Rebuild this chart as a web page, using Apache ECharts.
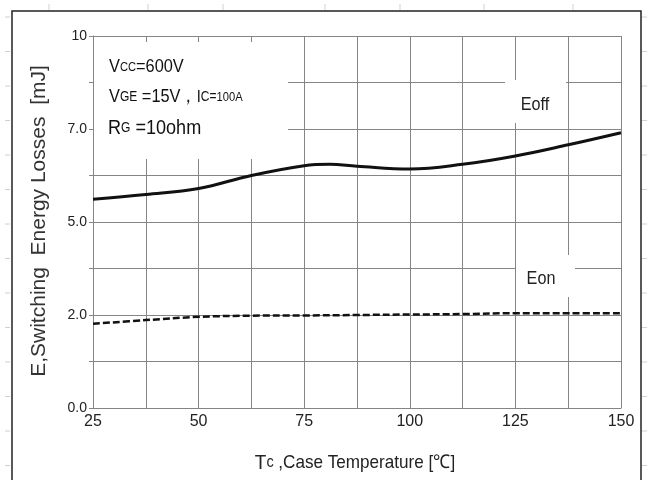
<!DOCTYPE html>
<html>
<head>
<meta charset="utf-8">
<script src="https://cdn.jsdelivr.net/npm/echarts@6/dist/echarts.min.js"></script>
<style>html,body{margin:0;padding:0;background:#fff;}#c{width:648px;height:480px;}</style>
</head>
<body>
<div id="c"></div>
<script>
// Temperatures (°C)
const eoffTemps = [25, 37.5, 50, 62.5, 75, 81, 87.5, 100, 112.5, 125, 137.5, 150];
const eonTemps  = [25, 37.5, 50, 62.5, 75, 87.5, 100, 112.5, 125, 137.5, 150];
// Values in y-grid units (grid rows 0..8, labelled with yTickLabels)
const eoffValues = [4.49, 4.59, 4.72, 5.0, 5.21, 5.24, 5.2, 5.14, 5.24, 5.42, 5.66, 5.92];
const eonValues  = [1.81, 1.89, 1.96, 1.985, 1.99, 2.0, 2.01, 2.02, 2.04, 2.04, 2.04];
const yTickLabels = ['0.0', '', '2.0', '', '5.0', '', '7.0', '', '10'];
const xTickLabels = [25, 50, 75, 100, 125, 150];

const chart = echarts.init(document.getElementById('c'));
const gridColor = '#858585';
const F = '"Liberation Sans", Arial, sans-serif';
const FN = '"Liberation Sans Narrow", "Liberation Sans", Arial, sans-serif';

const ruler = [];
[49, 148, 223, 325, 400, 484, 573].forEach(x => ruler.push({type:'line', z:1, shape:{x1:x,y1:4,x2:x,y2:10}, style:{stroke:'#d0d0d0', lineWidth:1}}));
for (let y = 17; y < 480; y += 34.5) {
  ruler.push({type:'line', z:1, shape:{x1:5,y1:y,x2:10,y2:y}, style:{stroke:'#d0d0d0', lineWidth:1}});
  ruler.push({type:'line', z:1, shape:{x1:642,y1:y,x2:647,y2:y}, style:{stroke:'#d0d0d0', lineWidth:1}});
}

chart.setOption({
  animation: false,
  backgroundColor: '#fff',
  grid: { left: 93, top: 36, width: 528, height: 372, containLabel: false },
  xAxis: {
    type: 'value', min: 25, max: 150, interval: 12.5,
    axisLine: { show: true, lineStyle: { color: gridColor, width: 1 } },
    axisTick: { show: false },
    splitLine: { show: true, lineStyle: { color: gridColor, width: 1 } },
    axisLabel: {
      margin: 6, color: '#222', fontSize: 16, fontFamily: FN,
      formatter: v => (xTickLabels.indexOf(v) >= 0 ? String(v) : '')
    }
  },
  yAxis: {
    type: 'value', min: 0, max: 8, interval: 1,
    axisLine: { show: true, lineStyle: { color: gridColor, width: 1 } },
    axisTick: { show: true, length: 4, lineStyle: { color: gridColor } },
    splitLine: { show: true, lineStyle: { color: gridColor, width: 1 } },
    axisLabel: {
      margin: 6, color: '#222', fontSize: 14, fontFamily: F,
      formatter: v => yTickLabels[Math.round(v)] || ''
    }
  },
  graphic: ruler.concat([
    { type: 'rect', z: 0, shape: { x: 12, y: 11, width: 629, height: 470 }, style: { fill: 'none', stroke: '#222', lineWidth: 1.5 } },
    { type: 'rect', z: 1, shape: { x: 94, y: 42, width: 194, height: 117 }, style: { fill: '#fff' } },
    { type: 'rect', z: 1, shape: { x: 505, y: 80, width: 61, height: 43 }, style: { fill: '#fff' } },
    { type: 'rect', z: 1, shape: { x: 516, y: 255, width: 59, height: 42 }, style: { fill: '#fff' } },
    { type: 'text', z: 5, x: 109, y: 67, scaleX: 0.86,
      style: { text: '{b|V}{s|CC}{b|=600V}', verticalAlign: 'middle', fill: '#111',
        rich: { b: { fontSize: 19, fontFamily: F, fill: '#111' }, s: { fontSize: 13, fontFamily: F, fill: '#111' } } } },
    { type: 'text', z: 5, x: 109, y: 97, scaleX: 0.86,
      style: { text: '{b|V}{s|GE}{b| =15V，}{m|I}{s|C=}{t|100A}', verticalAlign: 'middle', fill: '#111',
        rich: { b: { fontSize: 19, fontFamily: F, fill: '#111' }, m: { fontSize: 17, fontFamily: F, fill: '#111' },
                s: { fontSize: 14, fontFamily: F, fill: '#111' }, t: { fontSize: 13, fontFamily: F, fill: '#111' } } } },
    { type: 'text', z: 5, x: 108, y: 128, scaleX: 0.86,
      style: { text: '{b|R}{s|G}{b| =10ohm}', verticalAlign: 'middle', fill: '#111',
        rich: { b: { fontSize: 21, fontFamily: F, fill: '#111' }, s: { fontSize: 14, fontFamily: F, fill: '#111' } } } },
    { type: 'text', z: 5, x: 535, y: 105, scaleX: 0.9,
      style: { text: 'Eoff', fontSize: 18, fontFamily: F, fill: '#222', align: 'center', verticalAlign: 'middle' } },
    { type: 'text', z: 5, x: 541, y: 279, scaleX: 0.9,
      style: { text: 'Eon', fontSize: 18, fontFamily: F, fill: '#222', align: 'center', verticalAlign: 'middle' } },
    { type: 'text', z: 5, x: 355, y: 463, scaleX: 0.9,
      style: { text: '{t|T}{c|c}{r| ,Case Temperature [℃]}', align: 'center', verticalAlign: 'middle',
        rich: { t: { fontSize: 21, fontFamily: F, fill: '#222' }, c: { fontSize: 16, fontFamily: F, fill: '#222' }, r: { fontSize: 19, fontFamily: F, fill: '#222' } } } },
    { type: 'text', z: 5, x: 39, y: 221, rotation: Math.PI / 2,
      style: { text: 'E,Switching  Energy Losses  [mJ]', fontSize: 21, fontFamily: F, fill: '#333', align: 'center', verticalAlign: 'middle' } }
  ]),
  series: [
    { name: 'Eoff', type: 'line', z: 3, smooth: 0.4, symbol: 'none',
      data: eoffTemps.map((t, i) => [t, eoffValues[i]]),
      lineStyle: { color: '#111', width: 3 } },
    { name: 'Eon', type: 'line', z: 3, smooth: 0.4, symbol: 'none',
      data: eonTemps.map((t, i) => [t, eonValues[i]]),
      lineStyle: { color: '#111', width: 2.5, type: [7, 3] } }
  ]
});
</script>
</body>
</html>
